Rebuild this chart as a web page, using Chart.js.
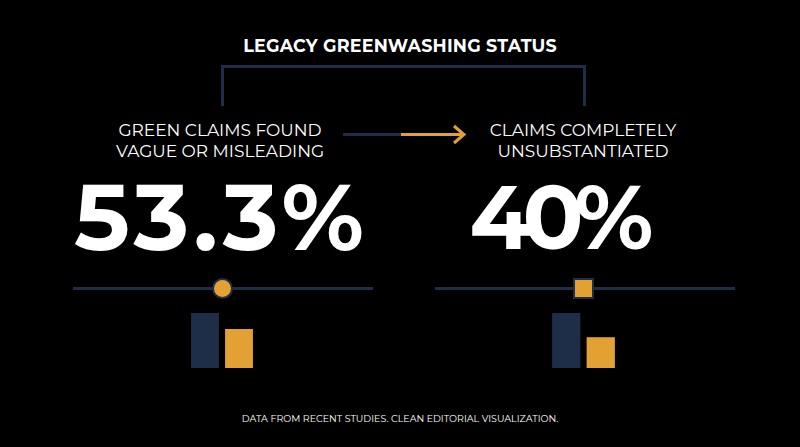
<!DOCTYPE html>
<html>
<head>
<meta charset="utf-8">
<script src="https://cdn.jsdelivr.net/npm/chart.js@4/dist/chart.umd.min.js"></script>
<style>
  html, body { margin: 0; padding: 0; background: #000; }
  #stage { position: relative; width: 800px; height: 447px; background: #000; overflow: hidden;
           font-family: "Montserrat", "Open Sans", "Noto Sans", sans-serif; color: #fff; }
  .abs { position: absolute; }
  .title { left: 0; width: 800px; top: 35px; text-align: center; font-weight: 700; font-size: 17.5px; letter-spacing: 0.2px; }
  .navy { background: #1e2d48; }
  .label { width: 300px; text-align: center; font-size: 17px; line-height: 21px; font-weight: 400; }
  .big { width: 400px; text-align: center; font-size: 94px; font-weight: 700; line-height: 92px; }
  .track { height: 3px; top: 287px; }
  .foot { left: 0; width: 800px; top: 413px; text-align: center; font-size: 9.5px; }
  canvas { position: absolute; }
</style>
</head>
<body>
<div id="stage">
  <div class="abs title" id="title"></div>

  <!-- bracket -->
  <div class="abs navy" style="left:221px; top:65px; width:365px; height:3px;"></div>
  <div class="abs navy" style="left:221px; top:65px; width:3px; height:41px;"></div>
  <div class="abs navy" style="left:583px; top:65px; width:3px; height:41px;"></div>

  <div class="abs label" id="labelL" style="left:70px; top:120px;"></div>
  <div class="abs label" id="labelR" style="left:433px; top:120px;"></div>

  <!-- arrow -->
  <div class="abs navy" style="left:343px; top:133px; width:58px; height:3px;"></div>
  <div class="abs" style="left:401px; top:133px; width:62px; height:3px; background:#e3a033;"></div>
  <svg class="abs" style="left:452px; top:124px;" width="16" height="21">
    <polyline points="2,2 12,10.5 2,19" fill="none" stroke="#e3a033" stroke-width="3"/>
  </svg>

  <div class="abs big" id="bigL" style="left:21px; top:171px; letter-spacing:4px;"></div>
  <div class="abs big" id="bigR" style="left:357px; top:171px; letter-spacing:-9px; font-size:90px;"></div>

  <!-- tracks + markers -->
  <div class="abs track navy" style="left:73px; width:300px;"></div>
  <div class="abs track navy" style="left:435px; width:300px;"></div>
  <div class="abs" style="left:212px; top:278px; width:17px; height:17px; border-radius:50%; background:#e3a033; border:2px solid #1e2d48;"></div>
  <div class="abs" style="left:573px; top:278px; width:17px; height:17px; background:#e3a033; border:2px solid #1e2d48;"></div>

  <canvas id="barsL" style="left:188px; top:313px;" width="68" height="55"></canvas>
  <canvas id="barsR" style="left:549px; top:313px;" width="69" height="55"></canvas>

  <div class="abs foot" id="foot"></div>
</div>

<script>
// ---- data ----
const TITLE = 'LEGACY GREENWASHING STATUS';
const LABELS_LEFT = ['GREEN CLAIMS FOUND', 'VAGUE OR MISLEADING'];
const LABELS_RIGHT = ['CLAIMS COMPLETELY', 'UNSUBSTANTIATED'];
const BIG_VALUES = ['53.3%', '40%'];
const BAR_CATEGORIES = ['A', 'B'];
const BARS_LEFT = [100, 71];
const BARS_RIGHT = [100, 56];
const FOOTER = 'DATA FROM RECENT STUDIES. CLEAN EDITORIAL VISUALIZATION.';

const NAVY = '#1e2d48';
const GOLD = '#e3a033';

document.getElementById('title').textContent = TITLE;
document.getElementById('labelL').innerHTML = LABELS_LEFT.join('<br>');
document.getElementById('labelR').innerHTML = LABELS_RIGHT.join('<br>');
document.getElementById('bigL').textContent = BIG_VALUES[0];
document.getElementById('bigR').textContent = BIG_VALUES[1];
document.getElementById('foot').textContent = FOOTER;

function miniBars(id, values) {
  new Chart(document.getElementById(id), {
    type: 'bar',
    data: {
      labels: BAR_CATEGORIES,
      datasets: [{
        data: values,
        backgroundColor: [NAVY, GOLD],
        borderWidth: 0,
        barPercentage: 0.82,
        categoryPercentage: 1
      }]
    },
    options: {
      responsive: false,
      animation: false,
      layout: { padding: 0 },
      plugins: { legend: { display: false }, tooltip: { enabled: false } },
      scales: {
        x: { display: false },
        y: { display: false, min: 0, max: 100 }
      }
    }
  });
}

miniBars('barsL', BARS_LEFT);
miniBars('barsR', BARS_RIGHT);
</script>
</body>
</html>
